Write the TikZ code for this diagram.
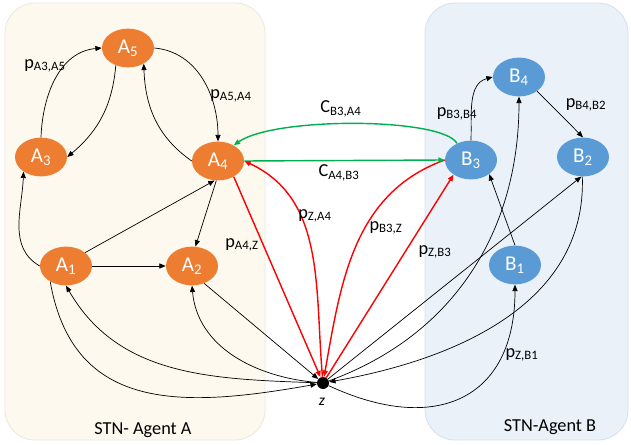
\documentclass[tikz,border=0pt]{standalone}
\usepackage{fontspec}
\setmainfont{Carlito}
\usepackage{xcolor}
\usetikzlibrary{arrows.meta}
\usetikzlibrary{shapes.geometric}

\definecolor{naranja}{HTML}{ED7D31}
\definecolor{azul}{HTML}{5B9BD5}
\definecolor{rojo}{HTML}{FF0000}
\definecolor{verde}{HTML}{00B050}
\definecolor{fondoA}{HTML}{FEF9EE}
\definecolor{bordeA}{HTML}{ECE8DE}
\definecolor{fondoB}{HTML}{EAF1F9}
\definecolor{bordeB}{HTML}{D6E1EE}

\begin{document}
\begin{tikzpicture}[
            x=0.025cm, y=0.025cm,
            stateA/.style={ellipse, fill=naranja, text=white, minimum width=1.3cm, minimum height=0.97cm, inner sep=0pt, font=\fontsize{15}{18}\selectfont},
            stateB/.style={stateA, fill=azul},
            link/.style={-{Triangle[length=4.5pt, width=3.6pt]}, line width=0.5pt, black},
            plink/.style={link, line width=1pt, rojo},
            clink/.style={link, line width=1pt, verde},
            lbl/.style={font=\fontsize{13}{15}\selectfont, inner sep=0pt},
            agent/.style={rounded corners=0.75cm, line width=0.6pt},
        ]
            \useasboundingbox (0,0) rectangle (631,-445);

            % --- Fondos de los agentes ---
            \draw[agent, fill=fondoA, draw=bordeA] (5,-3) rectangle (265,-440);
            \draw[agent, fill=fondoB, draw=bordeB] (425,-3) rectangle (628,-440);
            \node[font=\fontsize{13}{15}\selectfont] (agentA) at (143,-430) {STN- Agent A};
            \node[font=\fontsize{13}{15}\selectfont] (agentB) at (550,-427) {STN-Agent B};

            % --- Estados de los agentes ---
            \foreach \n/\x/\y in {5/128/48, 3/41/157, 4/218/161, 1/66/266, 2/192/266} {
                \node[stateA] (A\n) at (\x,-\y) {A\textsubscript{\n}};
            }
            \foreach \n/\x/\y in {4/519/77, 3/471/160, 2/583/157, 1/515/265} {
                \node[stateB] (B\n) at (\x,-\y) {B\textsubscript{\n}};
            }

            % --- Nodo z ---
            \node[circle, fill=black, minimum size=0.3cm, inner sep=0pt] (z) at (323,-383) {};
            \node[font=\fontsize{11}{12}\selectfont\itshape] (zlbl) at (322,-402) {z};

            % --- Aristas del agente A ---
            \draw[link] (A3.north) to[out=88, in=185] (A5.west);
            \draw[link] (A5.235) to[out=-95, in=40] (A3.east);
            \draw[link] (A5.east) to[out=-5, in=90] (A4.north);
            \draw[link] (A4.west) to[out=145, in=-88] (A5.-45);
            \draw[link] (A1.west) to[out=150, in=-92] (A3.220);
            \draw[link] (A1.35) -- (A4.260);
            \draw[link] (A4.265) -- (A2.80);
            \draw[link] (A1.east) -- (A2.west);
            \draw[link] (A1.225) to[out=-80, in=190, looseness=1.2] (z);
            \draw[link] (z) to[out=178, in=-60] (A1.south);
            \draw[link] (z) to[out=175, in=-85] (A2.south);
            \draw[link] (A2.-55) -- (z);

            % --- Aristas del agente B ---
            \draw[link] (B3.north) to[out=88, in=195] (B4.west);
            \draw[link] (B4.-38) -- (B2.north);
            \draw[link] (B1.north) -- (B3.-38);
            \draw[link] (z) to[out=20, in=-90] (B4.south);
            \draw[link] (z) -- (B2.-95);
            \draw[link] (B2.-92) to[out=-88, in=10] (z);
            \draw[link] (z) to[out=-25, in=-90, looseness=1.4] (B1.south);

            % --- Aristas entre agentes ---
            \draw[plink] (A4.-45) -- (z);
            \draw[plink] (z) to[out=95, in=-25] (A4.east);
            \draw[plink] (B3.west) to[out=200, in=80] (z);
            \draw[plink] (z) -- (B3.220);
            \draw[clink] (B3.130) .. controls +(120:30) and +(35:50) .. (A4.45);
            \draw[clink] (A4.east) -- (B3.west);

            % --- Etiquetas ---
            \node[lbl] (pA3A5) at (45,-66) {p\textsubscript{A3,A5}};
            \node[lbl] (pA5A4) at (231,-96) {p\textsubscript{A5,A4}};
            \node[lbl] (pA4Z) at (242,-245) {p\textsubscript{A4,Z}};
            \node[lbl] (pZA4) at (315,-216) {p\textsubscript{Z,A4}};
            \node[lbl] (pB3Z) at (386,-228) {p\textsubscript{B3,Z}};
            \node[lbl] (pZB3) at (435,-252) {p\textsubscript{Z,B3}};
            \node[lbl] (cB3A4) at (341,-109) {C\textsubscript{B3,A4}};
            \node[lbl] (cA4B3) at (339,-173) {C\textsubscript{A4,B3}};
            \node[lbl] (pB3B4) at (457,-114) {p\textsubscript{B3,B4}};
            \node[lbl] (pB4B2) at (586,-105) {p\textsubscript{B4,B2}};
            \node[lbl] (pZB1) at (522,-355) {p\textsubscript{Z,B1}};
        \end{tikzpicture}
\end{document}
